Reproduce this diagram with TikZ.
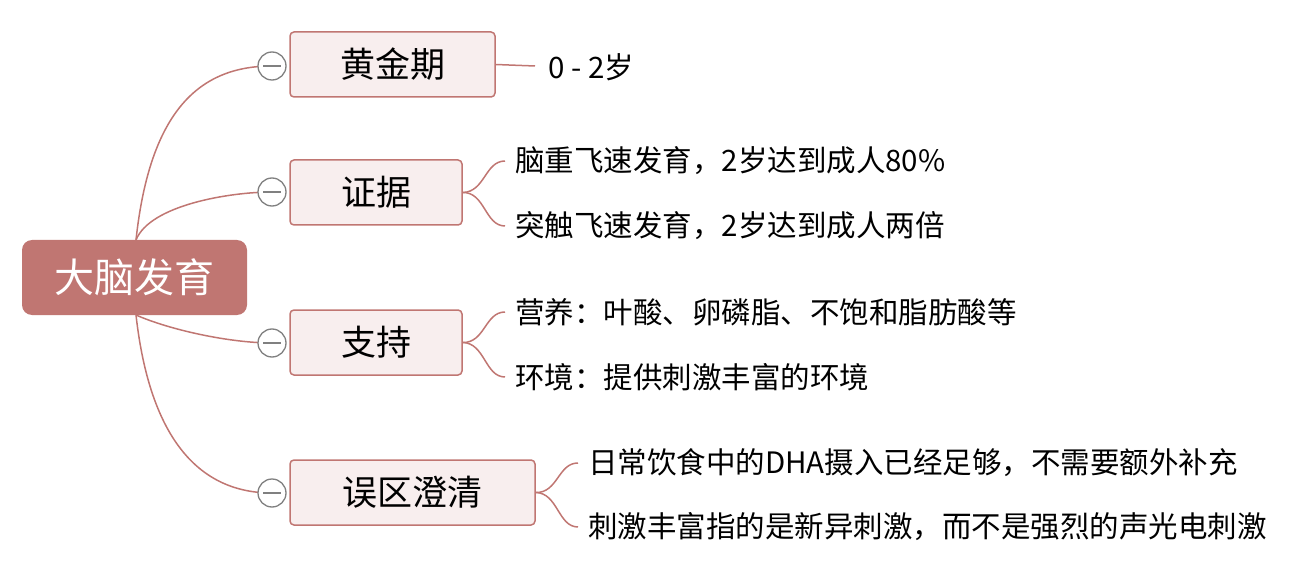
\documentclass[tikz,border=0pt]{standalone}
\usepackage{fontspec}
\setmainfont{Noto Sans CJK SC}
\definecolor{rose}{HTML}{C07672}
\definecolor{pinkbg}{HTML}{F8EEEE}
\definecolor{cgray}{HTML}{808080}
\begin{document}
\begin{tikzpicture}[x=1pt,y=-1pt,
 br/.style={draw=rose,line width=1.5pt,fill=pinkbg,rounded corners=4pt,font=\fontsize{35}{37}\selectfont,inner sep=0pt},
 lf/.style={anchor=west,font=\fontsize{29.5}{32}\selectfont,inner sep=0pt},
 ln/.style={draw=rose,line width=1.5pt},
 mn/.style={circle,draw=cgray,line width=1.3pt,fill=white,minimum size=28pt,inner sep=0pt}]
\useasboundingbox (0,0) rectangle (1301,564);
\node[fill=rose,rounded corners=10pt,minimum width=225pt,minimum height=75pt,text=white,font=\fontsize{40}{42}\selectfont] (root) at (134.5,277.5) {大脑发育};
\node[br,minimum width=205pt,minimum height=65pt] (b1) at (392.5,64.5) {黄金期};
\node[br,minimum width=172pt,minimum height=65pt] (b2) at (376,192.5) {证据};
\node[br,minimum width=172pt,minimum height=65pt] (b3) at (376,342.5) {支持};
\node[br,minimum width=245pt,minimum height=65pt] (b4) at (412.5,492.5) {误区澄清};
\coordinate (rt) at (136,240);
\coordinate (rb) at (136,315);
\draw[ln] (rt) .. controls (150,110) and (200,66) .. (272,66);
\draw[ln] (rt) .. controls (150,205) and (230,192) .. (272,192);
\draw[ln] (rb) .. controls (170,330) and (230,343) .. (272,343);
\draw[ln] (rb) .. controls (150,440) and (200,493) .. (272,493);
\node[mn] (m1) at (272,66) {}; \draw[cgray,line width=1.3pt] (m1.center)+(-9,0) -- +(9,0);
\node[mn] (m2) at (272,192) {}; \draw[cgray,line width=1.3pt] (m2.center)+(-9,0) -- +(9,0);
\node[mn] (m3) at (272,343) {}; \draw[cgray,line width=1.3pt] (m3.center)+(-9,0) -- +(9,0);
\node[mn] (m4) at (272,493) {}; \draw[cgray,line width=1.3pt] (m4.center)+(-9,0) -- +(9,0);
\node[lf] (l1) at (548,67) {0 - 2岁};
\draw[ln] (b1.east) -- (535,66);
\node[lf] (l21) at (515,161) {脑重飞速发育，2岁达到成人80\%};
\node[lf] (l22) at (515,226) {突触飞速发育，2岁达到成人两倍};
\draw[ln] (b2.east) .. controls (485,192) and (485,161) .. (505,161);
\draw[ln] (b2.east) .. controls (485,192) and (485,226) .. (505,226);
\node[lf] (l31) at (515,312) {营养：叶酸、卵磷脂、不饱和脂肪酸等};
\node[lf] (l32) at (515,377) {环境：提供刺激丰富的环境};
\draw[ln] (b3.east) .. controls (485,343) and (485,312) .. (505,312);
\draw[ln] (b3.east) .. controls (485,343) and (485,377) .. (505,377);
\node[lf] (l41) at (588,463) {日常饮食中的DHA摄入已经足够，不需要额外补充};
\node[lf] (l42) at (588,527) {刺激丰富指的是新异刺激，而不是强烈的声光电刺激};
\draw[ln] (b4.east) .. controls (558,493) and (558,463) .. (578,463);
\draw[ln] (b4.east) .. controls (558,493) and (558,527) .. (578,527);
\end{tikzpicture}
\end{document}
